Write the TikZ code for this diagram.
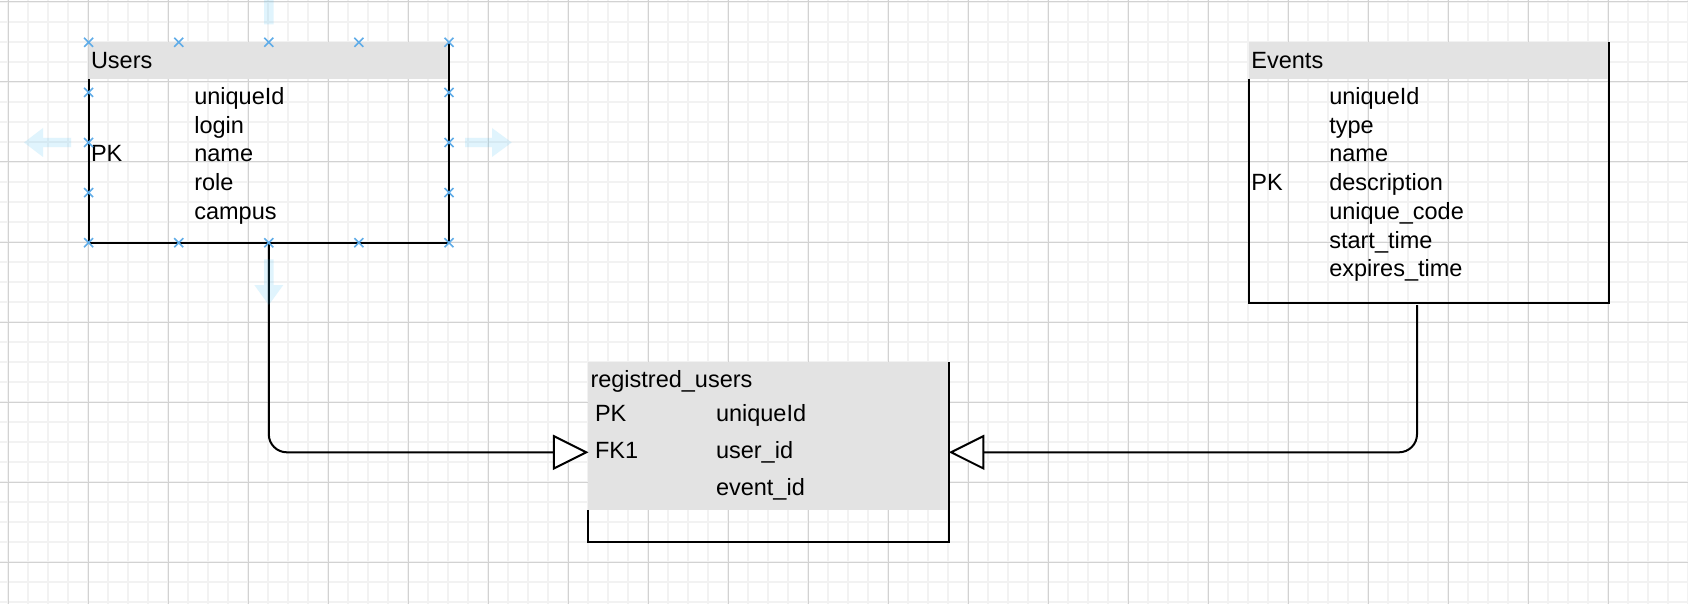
\documentclass[tikz,border=0pt]{standalone}
\usepackage{fontspec}
\setmainfont{Liberation Sans}
\usetikzlibrary{arrows.meta}

\definecolor{gridmajor}{HTML}{D2D2D2}
\definecolor{gridminor}{HTML}{F2F2F2}
\definecolor{hdrgray}{HTML}{E3E3E3}
\definecolor{handle}{RGB}{95,172,232}
\definecolor{hint}{RGB}{41,182,242}

\begin{document}
\begin{tikzpicture}[x=1pt,y=-1pt,
  txt/.style={anchor=base west, inner sep=0pt, outer sep=0pt,
              font=\fontsize{23.5}{28}\selectfont},
  tbl/.style={minimum width=360.4pt, inner sep=0pt, outer sep=0pt},
  border/.style={black, line width=2pt, line join=miter},
  hdr/.style={fill=hdrgray},
  conn/.style={black, line width=2pt, rounded corners=18pt,
               -{Triangle[length=35.5pt, width=35pt, fill=white, line join=miter]}},
  handlex/.style={handle, line width=1.6pt},
  hintarrow/.style={fill=hint, fill opacity=0.14}]
\useasboundingbox (0,0) rectangle (1688,604);
\clip (0,0) rectangle (1688,604);

% background grid
\fill[white] (0,0) rectangle (1688,604);
\foreach \x in {8,28,...,1688} \draw[gridminor, line width=1.6pt] (\x,0) -- (\x,604);
\foreach \y in {2,22,...,604} \draw[gridminor, line width=1.6pt] (0,\y) -- (1688,\y);
\foreach \x in {8,88,...,1688} \draw[gridmajor, line width=1pt] (\x,0) -- (\x,604);
\foreach \y in {2,82,...,604} \draw[gridmajor, line width=1pt] (0,\y) -- (1688,\y);

% tables
\node[tbl, minimum height=200.4pt] (users)  at (268.8,142.5)  {};
\node[tbl, minimum height=260.7pt] (events) at (1429,172.65)  {};
\node[tbl, minimum height=180pt]   (reg)    at (768.65,452.3) {};

% Users
\fill[hdr] (users.north west) rectangle ([yshift=-36.7pt]users.north east);
\draw[border] ([yshift=-36.7pt]users.north west) -- (users.south west)
  -- (users.south east) -- (users.north east);
\node[txt] (uTitle) at (91,68.3) {Users};
\node[txt] (uPK) at (91,162) {PK};
\node[txt] (u1) at (194.3,104.7) {uniqueId};
\node[txt] (u2) at (194.3,133.4) {login};
\node[txt] (u3) at (194.3,162)   {name};
\node[txt] (u4) at (194.3,190.7) {role};
\node[txt] (u5) at (194.3,219.4) {campus};

% Events
\fill[hdr] (events.north west) rectangle ([yshift=-36.7pt]events.north east);
\draw[border] ([yshift=-36.7pt]events.north west) -- (events.south west)
  -- (events.south east) -- (events.north east);
\node[txt] (eTitle) at (1251.4,68.3) {Events};
\node[txt] (ePK) at (1251.4,190.7) {PK};
\node[txt] (e1) at (1329.3,104.7) {uniqueId};
\node[txt] (e2) at (1329.3,133.4) {type};
\node[txt] (e3) at (1329.3,162)   {name};
\node[txt] (e4) at (1329.3,190.7) {description};
\node[txt] (e5) at (1329.3,219.4) {unique\_code};
\node[txt] (e6) at (1329.3,248)   {start\_time};
\node[txt] (e7) at (1329.3,276.7) {expires\_time};

% registred_users
\fill[hdr] (reg.north west) rectangle ([yshift=32.3pt]reg.south east);
\draw[border] ([yshift=32.3pt]reg.south west) -- (reg.south west)
  -- (reg.south east) -- (reg.north east);
\node[txt] (rTitle) at (590.5,387) {registred\_users};
\node[txt] (rPK)  at (595,421) {PK};
\node[txt] (rFK)  at (595,458) {FK1};
\node[txt] (r1) at (716,421) {uniqueId};
\node[txt] (r2) at (716,458) {user\_id};
\node[txt] (r3) at (716,495) {event\_id};

% relations
\coordinate (evOut) at ([xshift=-12pt,yshift=-2pt]events.south);
\draw[conn] (users.south) |- (reg.west);
\draw[conn] (evOut) |- (reg.east);

% selection handles on Users
\foreach \x in {88.6,178.7,268.8,358.9,449}
  \foreach \y in {42.3,242.7}
    \draw[handlex, shift={(\x,\y)}] (-4.5,-4.5) -- (4.5,4.5) (-4.5,4.5) -- (4.5,-4.5);
\foreach \x in {88.6,449}
  \foreach \y in {92.4,142.5,192.6}
    \draw[handlex, shift={(\x,\y)}] (-4.5,-4.5) -- (4.5,4.5) (-4.5,4.5) -- (4.5,-4.5);

% connection hint arrows
\fill[hintarrow] (71,137.8) -- (43,137.8) -- (43,128) -- (24,142.5) -- (43,157)
  -- (43,147.2) -- (71,147.2) -- cycle;
\fill[hintarrow] (465,137.8) -- (492,137.8) -- (492,128) -- (511.7,142.5) -- (492,157)
  -- (492,147.2) -- (465,147.2) -- cycle;
\fill[hintarrow] (264.1,24.3) -- (264.1,-3.7) -- (254.3,-3.7) -- (268.8,-22.7)
  -- (283.3,-3.7) -- (273.5,-3.7) -- (273.5,24.3) -- cycle;
\fill[hintarrow] (264.1,259.3) -- (264.1,285) -- (254.3,285) -- (268.8,305)
  -- (283.3,285) -- (273.5,285) -- (273.5,259.3) -- cycle;
\end{tikzpicture}
\end{document}
